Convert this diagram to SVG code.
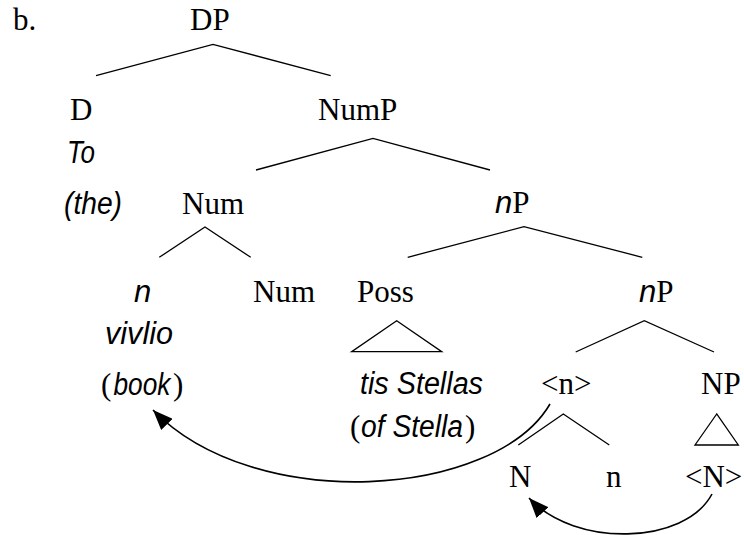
<svg xmlns="http://www.w3.org/2000/svg" width="744" height="535" viewBox="0 0 744 535">
<style>
.r{font-family:"Liberation Serif","Times New Roman",serif;font-size:31px;fill:#000}
.i{font-family:"Liberation Sans",Arial,sans-serif;font-style:italic;font-size:31px;fill:#000}
.e{fill:none;stroke:#000;stroke-width:1.3}
.m{fill:none;stroke:#000;stroke-width:1.6}
</style>
<defs>
<marker id="ah" markerUnits="userSpaceOnUse" markerWidth="22" markerHeight="16" refX="20" refY="8" orient="auto" viewBox="0 0 22 16">
<path d="M0,0 L20,8 L0,16 z" fill="#000"/>
</marker>
</defs>
<rect width="744" height="535" fill="#fff"/>
<g id="label-b"><text class="r" x="13" y="30">b.</text></g>
<g id="DP"><text class="r" x="190" y="30">DP</text></g>
<g id="D"><text class="r" x="70" y="120">D</text><text class="i" x="67" y="163" textLength="28" lengthAdjust="spacingAndGlyphs">To</text><text class="i" x="64" y="214" textLength="58" lengthAdjust="spacingAndGlyphs">(the)</text></g>
<g id="NumP"><text class="r" x="318" y="120">NumP</text></g>
<g id="Num1"><text class="r" x="182" y="214">Num</text></g>
<g id="nP1"><text x="495" y="213"><tspan class="i">n</tspan><tspan class="r">P</tspan></text></g>
<g id="n-head"><text class="i" x="134" y="302">n</text><text class="i" x="105" y="344" textLength="68" lengthAdjust="spacingAndGlyphs">vivlio</text><text y="395"><tspan class="r" x="101">(</tspan><tspan class="i" x="113.5" textLength="57" lengthAdjust="spacingAndGlyphs">book</tspan><tspan class="r" x="173">)</tspan></text></g>
<g id="Num2"><text class="r" x="253" y="302">Num</text></g>
<g id="Poss"><text class="r" x="357" y="302">Poss</text><text class="i" x="360" y="394" textLength="123" lengthAdjust="spacingAndGlyphs">tis Stellas</text><text y="437"><tspan class="r" x="350">(</tspan><tspan class="i" x="361" textLength="102" lengthAdjust="spacingAndGlyphs">of Stella</tspan><tspan class="r" x="465">)</tspan></text></g>
<g id="nP2"><text x="639" y="302"><tspan class="i">n</tspan><tspan class="r">P</tspan></text></g>
<g id="n-trace"><text class="r" x="541" y="394">&lt;n&gt;</text></g>
<g id="NP"><text class="r" x="701" y="394">NP</text></g>
<g id="N"><text class="r" x="509" y="487">N</text></g>
<g id="n-low"><text class="r" x="606" y="487">n</text></g>
<g id="N-trace"><text class="r" x="685" y="487">&lt;N&gt;</text></g>
<g id="connectors">
<polyline class="e" points="96,75.7 213,44.3 330.7,75.7"/>
<polyline class="e" points="256,170 373,138.3 490,170"/>
<polyline class="e" points="159.3,257.3 205,227 250.7,257.3"/>
<polyline class="e" points="407.7,257.3 524,226.7 642.3,257.3"/>
<polygon class="e" points="396.7,320.7 351.7,351.7 441.7,351.7"/>
<polyline class="e" points="575.7,352 644.3,320.7 714,352"/>
<polyline class="e" points="518.3,445 563.3,414 609.3,445"/>
<polygon class="e" points="716.7,414 695,445 738.3,445"/>
<path class="m" d="M550,404 C495,498 255,515 153,410" marker-end="url(#ah)"/>
<path class="m" d="M712,494 C685,545 575,548 529,498" marker-end="url(#ah)"/>
</g>
</svg>
